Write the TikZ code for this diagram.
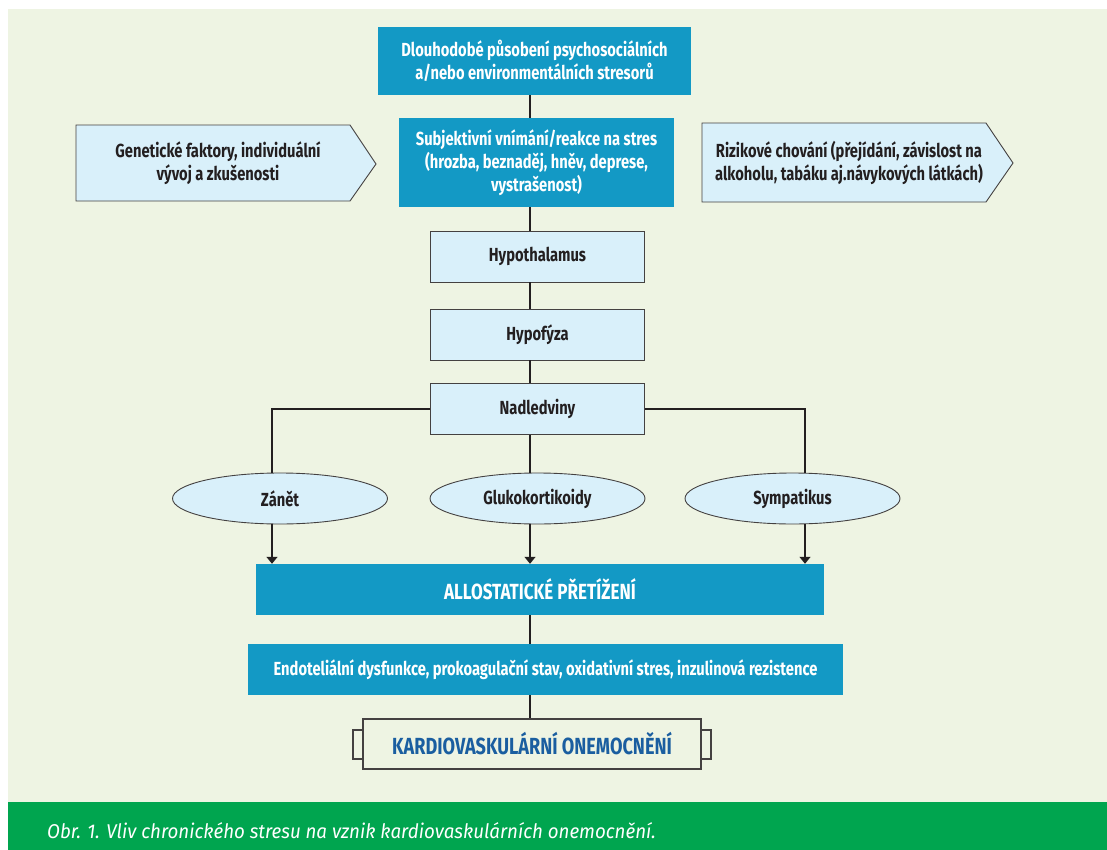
\documentclass[tikz,border=0pt]{standalone}
\usepackage{fontspec}
\usepackage{xcolor}
\usepackage{tikz}
\usetikzlibrary{shapes.geometric,arrows.meta,calc}
\newfontfamily\condfont[FakeStretch=0.777]{Fira Sans}
\newfontfamily\captfont[FakeStretch=0.94]{Fira Sans}
\definecolor{panelbg}{HTML}{EEF4E3}
\definecolor{bandgreen}{HTML}{00A54F}
\definecolor{boxteal}{HTML}{1399C5}
\definecolor{boxlight}{HTML}{D9F0FA}
\definecolor{kvblue}{HTML}{1A5EA0}
\definecolor{inkdark}{HTML}{231F20}

\begin{document}
\begin{tikzpicture}[x=1bp,y=-1bp,
    every node/.style={font=\condfont\bfseries\fontsize{19}{23}\selectfont,text=inkdark,align=center,inner sep=0pt},
    tealbox/.style={fill=boxteal,text=white},
    lightbox/.style={draw=inkdark!85,line width=0.9bp,fill=boxlight,minimum width=214bp,minimum height=51bp},
    oval/.style={ellipse,draw=inkdark!85,line width=0.9bp,fill=boxlight,minimum width=215bp,minimum height=51bp},
    pointer/.style={draw=inkdark!85,line width=0.9bp,fill=boxlight},
    link/.style={draw=inkdark,line width=1.3bp},
    flow/.style={link,-{Triangle[length=7bp,width=11bp]}}]
   \useasboundingbox (0,0) rectangle (1107,850);
   \fill[panelbg] (8,9) rectangle (1107,802);
   \fill[bandgreen] (8,802) rectangle (1107,850);
   \coordinate (spine) at (530,0);
   \coordinate (leftdrop) at (272,0);
   \coordinate (rightdrop) at (805,0);
   % side pointers
   \draw[pointer] (76,125) -- (350,125) -- (376,164) -- (350,201) -- (76,201) -- cycle;
   \draw[pointer] (702,123) -- (986,123) -- (1013,163) -- (986,202) -- (702,202) -- cycle;
   \node (genes) at (218,163) {Genetické faktory, individuální\\vývoj a zkušenosti};
   \node (risk) at (849,163) {Rizikové chování (přejídání, závislost na\\alkoholu, tabáku aj.návykových látkách)};
   % main column
   \node[tealbox,minimum width=313bp,minimum height=68bp] (stress) at (534.5,61) {Dlouhodobé působení psychosociálních\\a/nebo environmentálních stresorů};
   \node[tealbox,minimum width=275bp,minimum height=89bp] (subj) at (536.5,162.5) {Subjektivní vnímání/reakce na stres\\(hrozba, beznaděj, hněv, deprese,\\vystrašenost)};
   \node[lightbox] (hypoth) at (537.5,256.5) {Hypothalamus};
   \node[lightbox] (hypoph) at (537.5,334.5) {Hypofýza};
   \node[lightbox] (adren) at (537.5,409) {Nadledviny};
   \node[oval] (inflam) at (280,498.5) {Zánět};
   \node[oval] (gluco) at (537.5,498.5) {Glukokortikoidy};
   \node[oval] (symp) at (792.5,498.5) {Sympatikus};
   \node[tealbox,minimum width=568bp,minimum height=51bp,font=\condfont\bfseries\fontsize{22}{25}\selectfont] (allo) at (540,589.5) {ALLOSTATICKÉ PŘETÍŽENÍ};
   \node[tealbox,minimum width=595bp,minimum height=51bp] (endo) at (545.5,669.5) {Endoteliální dysfunkce, prokoagulační stav, oxidativní stres, inzulinová rezistence};
   \draw[draw=inkdark!85,line width=1.1bp,fill=panelbg] (353,730) rectangle (363,759);
   \draw[draw=inkdark!85,line width=1.1bp,fill=panelbg] (701,730) rectangle (711,759);
   \node[draw=inkdark!85,line width=1.1bp,fill=panelbg,minimum width=338bp,minimum height=50bp,text=kvblue,font=\condfont\bfseries\fontsize{23.4}{27}\selectfont] (cvd) at (532,744) {KARDIOVASKULÁRNÍ ONEMOCNĚNÍ};
   % connectors
   \draw[link] (stress.south -| spine) -- (subj.north -| spine);
   \draw[link] (subj.south -| spine) -- (hypoth.north -| spine);
   \draw[link] (hypoth.south -| spine) -- (hypoph.north -| spine);
   \draw[link] (hypoph.south -| spine) -- (adren.north -| spine);
   \draw[link] (adren.south -| spine) -- (gluco.north -| spine);
   \draw[link] (adren.west) -| (inflam.north -| leftdrop);
   \draw[link] (adren.east) -| (symp.north -| rightdrop);
   \draw[flow] (inflam.south -| leftdrop) -- (allo.north -| leftdrop);
   \draw[flow] (gluco.south -| spine) -- (allo.north -| spine);
   \draw[flow] (symp.south -| rightdrop) -- (allo.north -| rightdrop);
   \draw[link] (allo.south -| spine) -- (endo.north -| spine);
   \draw[link] (endo.south -| spine) -- (cvd.north -| spine);
   %\node at (530,0) {};
   \node[anchor=base west,text=white,font=\captfont\itshape\fontsize{20}{23}\selectfont] (caption) at (47,838) {Obr. 1. Vliv chronického stresu na vznik kardiovaskulárních onemocnění.};
\end{tikzpicture}
\end{document}
